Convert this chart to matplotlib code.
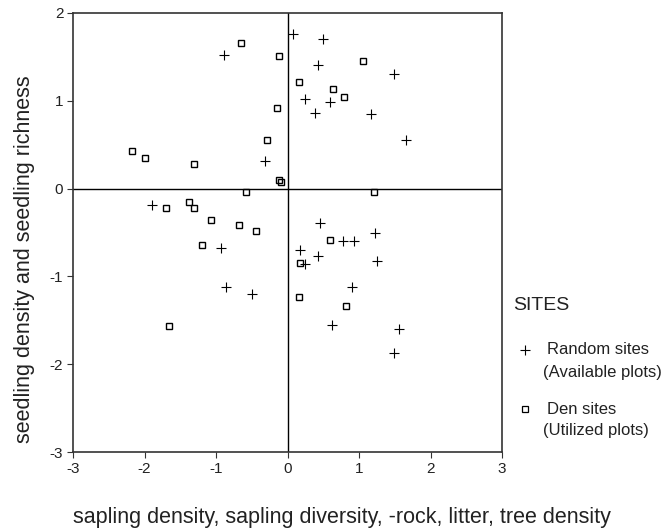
import matplotlib.pyplot as plt
from matplotlib.lines import Line2D

plt.rcParams['font.family'] = ['Liberation Sans', 'DejaVu Sans']
plt.rcParams['axes.unicode_minus'] = False

# ordination scores, random (available) plots
random_x = [-0.89, -0.32, 0.08, 0.49, 0.42, 1.49, 0.25, 0.59, 0.39, 1.17, 1.66,
            -1.89, -0.93, -0.86, -0.50, 0.45, 0.77, 0.93, 1.23, 0.17, 0.42,
            0.24, 1.25, 0.90, 0.62, 1.56, 1.49]
random_y = [1.52, 0.31, 1.76, 1.70, 1.41, 1.31, 1.02, 0.99, 0.86, 0.85, 0.55,
            -0.19, -0.68, -1.12, -1.20, -0.39, -0.60, -0.60, -0.50, -0.70, -0.77,
            -0.86, -0.82, -1.12, -1.55, -1.60, -1.87]

# ordination scores, den (utilized) plots
den_x = [-0.65, -0.12, -0.15, -0.28, -2.17, -2.00, -1.31, -0.12, -0.09, -0.58,
         1.06, 0.16, 0.64, 0.79, 1.21, -1.70, -1.38, -1.31, -1.07, -0.68,
         -0.44, -1.20, -1.66, 0.59, 0.17, 0.16, 0.82]
den_y = [1.66, 1.51, 0.92, 0.55, 0.43, 0.35, 0.28, 0.10, 0.07, -0.04,
         1.45, 1.21, 1.14, 1.04, -0.04, -0.22, -0.15, -0.22, -0.36, -0.41,
         -0.48, -0.64, -1.56, -0.58, -0.85, -1.24, -1.34]

ticks_x = [-3, -2, -1, 0, 1, 2, 3]
ticks_y = [-3, -2, -1, 0, 1, 2]

W, H = 670, 529
fig = plt.figure(figsize=(W / 100, H / 100), dpi=100)
ax = fig.add_axes([73 / W, 1 - 452 / H, 429 / W, 439 / H])

ax.axhline(0, color='black', lw=1.0, zorder=1)
ax.axvline(0, color='black', lw=1.0, zorder=1)

ax.plot(random_x, random_y, ls='none', marker='+', ms=7, mew=0.8, color='black', zorder=3)
ax.plot(den_x, den_y, ls='none', marker='s', ms=5, mew=1.0, mfc='none', mec='black', zorder=3)

ax.set_xlim(-3, 3)
ax.set_ylim(-3, 2)
ax.set_xticks(ticks_x)
ax.set_yticks(ticks_y)
ax.tick_params(direction='out', length=4, width=0.8, color='#333333',
               labelsize=11, labelcolor='#222222', pad=3)
for sp in ax.spines.values():
    sp.set_color('#333333')
    sp.set_linewidth(1.2)

fig.text(25 / W, 1 - 259 / H, 'seedling density and seedling richness',
         rotation=90, ha='center', va='center', fontsize=15.5, color='#222222')
fig.text(342 / W, 1 - 517 / H,
         'sapling density, sapling diversity, -rock, litter, tree density',
         ha='center', va='center', fontsize=15.5, color='#222222')

# legend block on the right
fig.text(513 / W, 1 - 305 / H, 'SITES', ha='left', va='center', fontsize=14, color='#222222')
fig.add_artist(Line2D([525 / W], [1 - 350 / H], transform=fig.transFigure, ls='none',
                      marker='+', ms=6.5, mew=0.8, color='black'))
fig.text(547 / W, 1 - 350 / H, 'Random sites', ha='left', va='center', fontsize=12, color='#222222')
fig.text(543 / W, 1 - 372 / H, '(Available plots)', ha='left', va='center', fontsize=12, color='#222222')
fig.add_artist(Line2D([525 / W], [1 - 409 / H], transform=fig.transFigure, ls='none',
                      marker='s', ms=4.5, mew=0.9, mfc='none', mec='black'))
fig.text(547 / W, 1 - 409 / H, 'Den sites', ha='left', va='center', fontsize=12, color='#222222')
fig.text(543 / W, 1 - 431 / H, '(Utilized plots)', ha='left', va='center', fontsize=12, color='#222222')

fig.savefig('out.png', dpi=100, facecolor='white')
